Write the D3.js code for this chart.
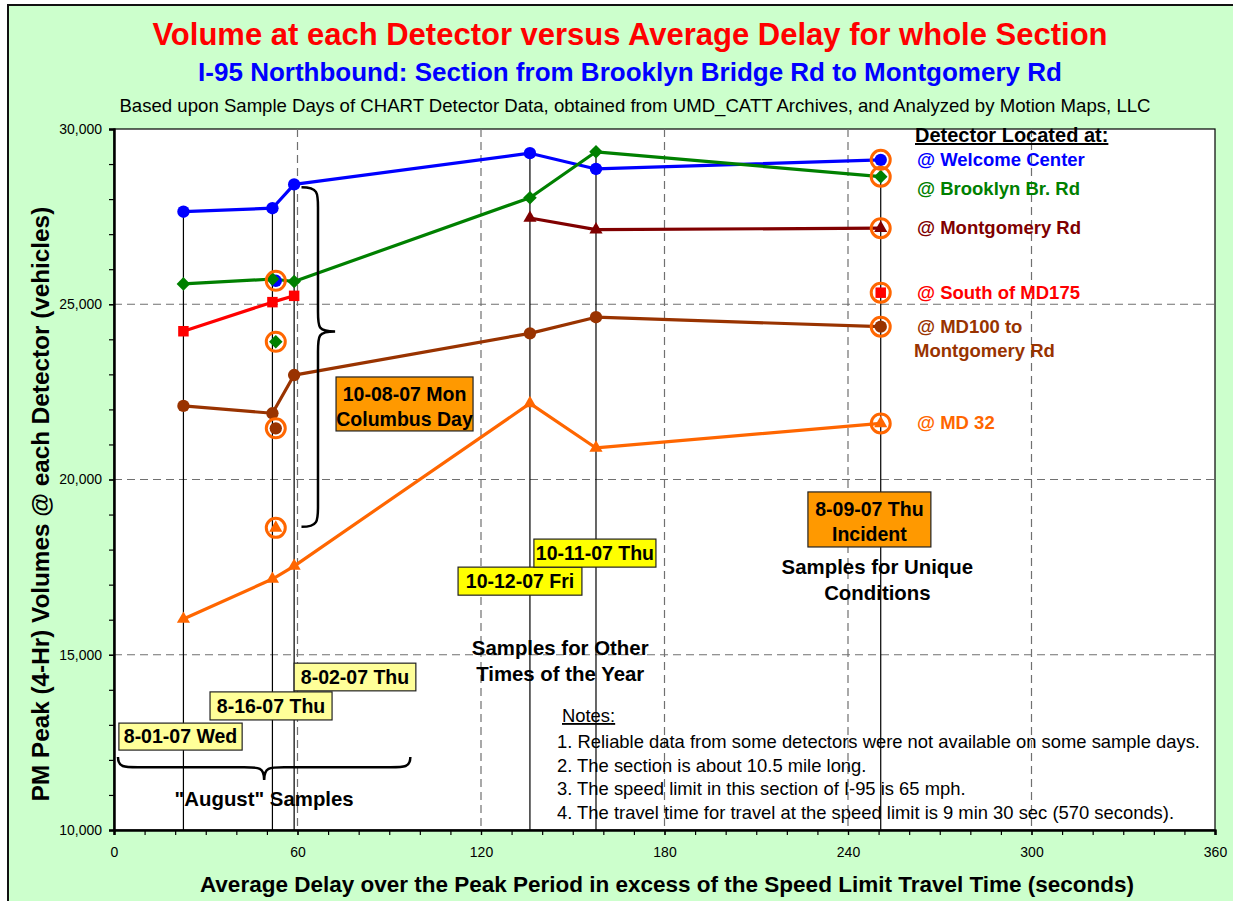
<!DOCTYPE html>
<html>
<head>
<meta charset="utf-8">
<script src="https://cdn.jsdelivr.net/npm/d3@7"></script>
<style>
body { margin: 0; background: #fff; }
text { font-family: "Liberation Sans", Arial, sans-serif; }
</style>
</head>
<body>
<svg id="chart"></svg>
<script>
// sample days and the average delay (seconds) measured on each
var sampleDays = ["8-01-07 Wed", "8-16-07 Thu", "8-02-07 Thu", "10-12-07 Fri", "10-11-07 Thu", "8-09-07 Thu"];
var delays = [22.7, 51.8, 58.9, 136.0, 157.6, 250.7];

// PM peak (4-hr) volume at each detector, null = no reliable data that day
var welcomeCenter = [27640, 27740, 28420, 29310, 28860, 29120];
var brooklynBr    = [25580, 25720, 25650, 28040, 29350, 28640];
var montgomeryRd  = [null, null, null, 27460, 27130, 27170];
var southMD175    = [24230, 25060, 25240, null, null, 25330];
var md100         = [22100, 21890, 22980, 24170, 24630, 24360];
var md32          = [16020, 17160, 17530, 22170, 20900, 21600];

// 10-08-07 Mon Columbus Day (same detector order)
var columbusDelay = 52.9;
var columbusVolumes = [25670, 23930, null, null, 21460, 18620];

var seriesNames  = ["@ Welcome Center", "@ Brooklyn Br. Rd", "@ Montgomery Rd", "@ South of MD175", "@ MD100 to|Montgomery Rd", "@ MD 32"];
var seriesColors = ["#0000FF", "#008000", "#800000", "#FF0000", "#993300", "#FF6600"];
var seriesShapes = ["circle", "diamond", "triangle", "square", "circle", "triangle"];

var xTicks = [0, 60, 120, 180, 240, 300, 360];
var yTicks = [10000, 15000, 20000, 25000, 30000];

var width = 1233, height = 901;
var svg = d3.select("#chart").attr("width", width).attr("height", height);

var allSeries = [welcomeCenter, brooklynBr, montgomeryRd, southMD175, md100, md32];

var x = d3.scaleLinear().domain([0, 360]).range([114, 1215]);
var y = d3.scaleLinear().domain([10000, 30000]).range([830, 129]);

// background frame
svg.append("rect")
  .attr("x", 8).attr("y", 5)
  .attr("width", 1240).attr("height", 910)
  .attr("fill", "#CCFFCC")
  .attr("stroke", "#111").attr("stroke-width", 2);

svg.append("rect")
  .attr("x", x(0)).attr("y", y(30000))
  .attr("width", x(360) - x(0)).attr("height", y(10000) - y(30000))
  .attr("fill", "#fff")
  .attr("stroke", "#000").attr("stroke-width", 1.2);

// titles
svg.append("text").attr("x", 630).attr("y", 45)
  .attr("text-anchor", "middle").attr("font-size", "31px").attr("font-weight", "bold")
  .attr("fill", "#FF0000")
  .text("Volume at each Detector versus Average Delay for whole Section");
svg.append("text").attr("x", 630).attr("y", 81)
  .attr("text-anchor", "middle").attr("font-size", "26px").attr("font-weight", "bold")
  .attr("fill", "#0000FF")
  .text("I-95 Northbound: Section from Brooklyn Bridge Rd to Montgomery Rd");
svg.append("text").attr("x", 635).attr("y", 112)
  .attr("text-anchor", "middle").attr("font-size", "18.6px")
  .attr("fill", "#000")
  .text("Based upon Sample Days of CHART Detector Data, obtained from UMD_CATT Archives, and Analyzed by Motion Maps, LLC");

// dashed grid
var grid = svg.append("g")
  .attr("stroke", "#707070").attr("stroke-width", 1.2).attr("stroke-dasharray", "8,5");
grid.selectAll(".gx").data(xTicks.slice(1, -1)).enter().append("line")
  .attr("x1", function(d) { return x(d); }).attr("x2", function(d) { return x(d); })
  .attr("y1", y(30000)).attr("y2", y(10000));
grid.selectAll(".gy").data(yTicks.slice(1, -1)).enter().append("line")
  .attr("x1", x(0)).attr("x2", x(360))
  .attr("y1", function(d) { return y(d); }).attr("y2", function(d) { return y(d); });

// drop lines from the top point of each sample day
svg.append("g").selectAll("line").data(delays).enter().append("line")
  .attr("x1", function(d) { return x(d); }).attr("x2", function(d) { return x(d); })
  .attr("y1", function(d, i) {
    return y(d3.max(allSeries, function(s) { return s[i]; }));
  })
  .attr("y2", y(10000))
  .attr("stroke", "#000").attr("stroke-width", 1.2);

// axes
var xMinor = svg.append("g").attr("transform", "translate(0," + y(10000) + ")")
  .call(d3.axisBottom(x).tickValues(d3.range(0, 361, 10)).tickSize(5).tickFormat(""));
var xAxis = svg.append("g").attr("transform", "translate(0," + y(10000) + ")")
  .call(d3.axisBottom(x).tickValues(xTicks).tickSize(5).tickPadding(12));
var yMinor = svg.append("g").attr("transform", "translate(" + x(0) + ",0)")
  .call(d3.axisLeft(y).tickValues(d3.range(10000, 30001, 1000)).tickSize(5).tickFormat(""));
var yAxis = svg.append("g").attr("transform", "translate(" + x(0) + ",0)")
  .call(d3.axisLeft(y).tickValues(yTicks).tickSize(5).tickPadding(7).tickFormat(d3.format(",")));

[xMinor, xAxis, yMinor, yAxis].forEach(function(a) {
  a.select(".domain").attr("stroke", "#000").attr("stroke-width", 2);
  a.selectAll(".tick line").attr("stroke", "#000").attr("stroke-width", 1.2);
  a.selectAll("text").attr("font-size", "14px").attr("font-family", "Liberation Sans, Arial, sans-serif").attr("fill", "#000");
});

svg.append("text").attr("x", 667).attr("y", 892)
  .attr("text-anchor", "middle").attr("font-size", "22.5px").attr("font-weight", "bold")
  .text("Average Delay over the Peak Period in excess of the Speed Limit Travel Time (seconds)");
svg.append("text")
  .attr("transform", "translate(40,504) rotate(-90)")
  .attr("text-anchor", "middle").attr("dy", "0.35em")
  .attr("font-size", "24.3px").attr("font-weight", "bold")
  .text("PM Peak (4-Hr) Volumes @ each Detector (vehicles)");

// series lines + markers
function shapePath(shape) {
  if (shape == "circle") return d3.symbol(d3.symbolCircle, 120)();
  if (shape == "square") return d3.symbol(d3.symbolSquare, 110)();
  if (shape == "triangle") return d3.symbol(d3.symbolTriangle, 75)();
  if (shape == "diamond") return "M0,-6.8L6.8,0L0,6.8L-6.8,0Z";
}

var line = d3.line()
  .defined(function(d) { return d.v != null; })
  .x(function(d) { return x(d.t); })
  .y(function(d) { return y(d.v); });

allSeries.forEach(function(s, k) {
  var pts = s.map(function(v, i) { return {t: delays[i], v: v}; });
  svg.append("path")
    .attr("d", line(pts))
    .attr("fill", "none")
    .attr("stroke", seriesColors[k])
    .attr("stroke-width", 3.2)
    .attr("stroke-linejoin", "round");
});

var markers = [];
allSeries.forEach(function(s, k) {
  s.forEach(function(v, i) { if (v != null) markers.push({t: delays[i], v: v, k: k}); });
  if (columbusVolumes[k] != null) markers.push({t: columbusDelay, v: columbusVolumes[k], k: k, ring: true});
  if (s[5] != null) markers[markers.length - (columbusVolumes[k] != null ? 2 : 1)].ring = true;
});

svg.append("g").selectAll("path").data(markers).enter().append("path")
  .attr("transform", function(d) { return "translate(" + x(d.t) + "," + y(d.v) + ")"; })
  .attr("d", function(d) { return shapePath(seriesShapes[d.k]); })
  .attr("fill", function(d) { return seriesColors[d.k]; });

svg.append("g").selectAll("circle").data(markers.filter(function(d) { return d.ring; })).enter().append("circle")
  .attr("cx", function(d) { return x(d.t); })
  .attr("cy", function(d) { return y(d.v); })
  .attr("r", 9.5)
  .attr("fill", "none")
  .attr("stroke", "#FF6600")
  .attr("stroke-width", 3);

// legend next to the incident points
svg.append("text").attr("x", 915).attr("y", 142)
  .attr("font-size", "20px").attr("font-weight", "bold")
  .attr("text-decoration", "underline")
  .text("Detector Located at:");
var legendShift = [6, 18, 6, 6, 6, 6];
seriesNames.forEach(function(name, k) {
  var parts = name.split("|");
  var t = svg.append("text")
    .attr("x", 917).attr("y", y(allSeries[k][5]) + legendShift[k])
    .attr("font-size", "18.5px").attr("font-weight", "bold")
    .attr("fill", seriesColors[k]);
  parts.forEach(function(p, j) {
    t.append("tspan").attr("x", j == 0 ? 917 : 914).attr("dy", j == 0 ? 0 : 24.5).text(p);
  });
});

// annotation boxes (positions in data units)
var boxes = [
  {lines: ["8-01-07 Wed"], t0: 1.6, t1: 41.9, v0: 13050, v1: 12280, fill: "#FFFF99"},
  {lines: ["8-16-07 Thu"], t0: 31.4, t1: 71.3, v0: 13940, v1: 13140, fill: "#FFFF99"},
  {lines: ["8-02-07 Thu"], t0: 58.9, t1: 98.7, v0: 14760, v1: 13970, fill: "#FFFF99"},
  {lines: ["10-12-07 Fri"], t0: 112.5, t1: 153.0, v0: 17500, v1: 16700, fill: "#FFFF00"},
  {lines: ["10-11-07 Thu"], t0: 137.3, t1: 177.2, v0: 18300, v1: 17500, fill: "#FFFF00"},
  {lines: ["10-08-07 Mon", "Columbus Day"], t0: 72.6, t1: 117.4, v0: 22925, v1: 21385, fill: "#FF9900"},
  {lines: ["8-09-07 Thu", "Incident"], t0: 226.9, t1: 267.1, v0: 19645, v1: 18075, fill: "#FF9900"}
];
boxes.forEach(function(b) {
  var bx = x(b.t0), by = y(b.v0), bw = x(b.t1) - x(b.t0), bh = y(b.v1) - y(b.v0);
  svg.append("rect").attr("x", bx).attr("y", by).attr("width", bw).attr("height", bh)
    .attr("fill", b.fill).attr("stroke", "#222").attr("stroke-width", 1.2);
  b.lines.forEach(function(l, j) {
    svg.append("text")
      .attr("x", bx + bw / 2)
      .attr("y", b.lines.length == 1 ? by + bh - 7 : by + 24 + j * 25)
      .attr("text-anchor", "middle").attr("font-size", "19.5px").attr("font-weight", "bold")
      .text(l);
  });
});

// braces
var bx0 = x(1.3), bx1 = x(96.9), bm = x(49.1), byTop = y(12080), byMid = y(11790), byTip = y(11430);
svg.append("path")
  .attr("d", "M" + bx0 + "," + byTop +
    " C" + bx0 + "," + byMid + " " + (bx0 + 6) + "," + byMid + " " + (bx0 + 20) + "," + byMid +
    " L" + (bm - 20) + "," + byMid +
    " C" + (bm - 5) + "," + byMid + " " + bm + "," + byMid + " " + bm + "," + byTip +
    " C" + bm + "," + byMid + " " + (bm + 5) + "," + byMid + " " + (bm + 20) + "," + byMid +
    " L" + (bx1 - 20) + "," + byMid +
    " C" + (bx1 - 6) + "," + byMid + " " + bx1 + "," + byMid + " " + bx1 + "," + byTop)
  .attr("fill", "none").attr("stroke", "#000").attr("stroke-width", 2.5);

var cx0 = x(61.3), cxm = x(66.7), cxTip = x(72.3);
var cyTop = y(28340), cyMid = y(24220), cyBot = y(18650);
svg.append("path")
  .attr("d", "M" + cx0 + "," + cyTop +
    " C" + cxm + "," + cyTop + " " + cxm + "," + (cyTop + 6) + " " + cxm + "," + (cyTop + 20) +
    " L" + cxm + "," + (cyMid - 20) +
    " C" + cxm + "," + (cyMid - 4) + " " + cxm + "," + cyMid + " " + cxTip + "," + cyMid +
    " C" + cxm + "," + cyMid + " " + cxm + "," + (cyMid + 4) + " " + cxm + "," + (cyMid + 20) +
    " L" + cxm + "," + (cyBot - 20) +
    " C" + cxm + "," + (cyBot - 6) + " " + cxm + "," + cyBot + " " + cx0 + "," + cyBot)
  .attr("fill", "none").attr("stroke", "#000").attr("stroke-width", 2.5);

// group captions
var captions = [
  {lines: ["\"August\" Samples"], t: 49.1, v: 10690},
  {lines: ["Samples for Other", "Times of the Year"], t: 145.9, v: 15000},
  {lines: ["Samples for Unique", "Conditions"], t: 249.6, v: 17300}
];
captions.forEach(function(c) {
  c.lines.forEach(function(l, j) {
    svg.append("text").attr("x", x(c.t)).attr("y", y(c.v) + j * 26)
      .attr("text-anchor", "middle").attr("font-size", "20.4px").attr("font-weight", "bold")
      .text(l);
  });
});

// notes
var notes = [
  "1. Reliable data from some detectors were not available on some sample days.",
  "2. The section is about 10.5 mile long.",
  "3. The speed limit in this section of I-95 is 65 mph.",
  "4. The travel time for travel at the speed limit is 9 min 30 sec (570 seconds)."
];
svg.append("text").attr("x", 562).attr("y", 722)
  .attr("font-size", "18.4px").attr("text-decoration", "underline").text("Notes")
  .append("tspan").attr("text-decoration", "none").text(":");
notes.forEach(function(n, i) {
  svg.append("text").attr("x", 557).attr("y", 748 + i * 23.6)
    .attr("font-size", "18.4px").text(n);
});
</script>
</body>
</html>
